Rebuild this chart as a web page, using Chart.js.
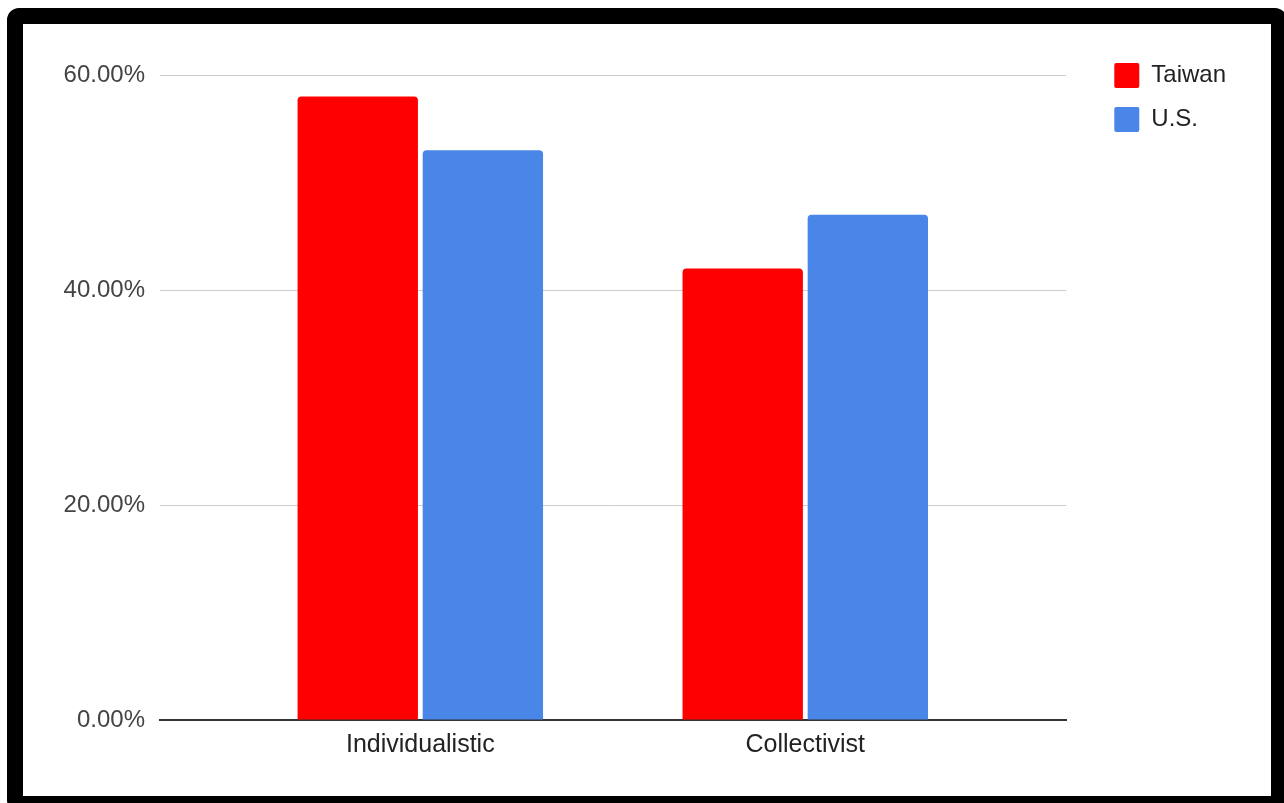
<!DOCTYPE html>
<html>
<head>
<meta charset="utf-8">
<title>Taiwan vs U.S.</title>
<script src="https://cdn.jsdelivr.net/npm/chart.js@4.4.1/dist/chart.umd.min.js"></script>
<style>
  html, body { margin: 0; padding: 0; background: #ffffff; overflow: hidden; }
  body { width: 1284px; height: 803px; position: relative; }
  .frame {
    position: absolute;
    left: 7px; top: 8px;
    width: 1248px; height: 772px;
    border: 16px solid #000;
    border-radius: 12px;
    background: #fff;
  }
  .frame canvas { position: absolute; left: 0; top: 0; }
</style>
</head>
<body>
<div class="frame">
  <canvas id="chart" width="1248" height="772"></canvas>
</div>
<script>
// Categories and series (percent of respondents)
const categories = ['Individualistic', 'Collectivist'];
const seriesNames = ['Taiwan', 'U.S.'];
const taiwanValues = [58, 42];
const usValues = [53, 47];
const yTicks = [0, 20, 40, 60];

const seriesColors = ['#ff0000', '#4a86e8'];

Chart.defaults.font.family = '"Liberation Sans", Arial, Helvetica, sans-serif';
Chart.defaults.color = '#444';

// Each category sits at position 1, 2, ... on a numeric x scale
const toPoints = (values) => values.map((v, i) => ({ x: i + 1, y: v }));

new Chart(document.getElementById('chart'), {
  type: 'bar',
  data: {
    datasets: [
      {
        label: seriesNames[0],
        data: toPoints(taiwanValues),
        backgroundColor: seriesColors[0],
        borderRadius: 4,
        borderSkipped: 'start'
      },
      {
        label: seriesNames[1],
        data: toPoints(usValues),
        backgroundColor: seriesColors[1],
        borderRadius: 4,
        borderSkipped: 'start'
      }
    ]
  },
  options: {
    responsive: false,
    animation: false,
    devicePixelRatio: 1,
    categoryPercentage: 0.65,
    barPercentage: 0.962,
    layout: { padding: { top: 20, left: 0, right: 35, bottom: 0 } },
    plugins: {
      tooltip: { enabled: false },
      title: {
        display: true,
        text: '',
        font: { size: 10 },
        padding: { top: 0, bottom: 19 }
      },
      legend: {
        position: 'right',
        align: 'start',
        labels: {
          boxWidth: 25,
          boxHeight: 25,
          padding: 19,
          color: '#222',
          font: { size: 24 },
          useBorderRadius: true,
          borderRadius: 2
        }
      }
    },
    scales: {
      x: {
        type: 'linear',
        offset: false,
        min: 0.3238,
        max: 2.678,
        z: 1,
        grid: { display: false, offset: false },
        border: { display: true, color: '#333', width: 2 },
        afterFit: (scale) => { scale.height = 76; },
        afterBuildTicks: (scale) => {
          scale.ticks = categories.map((c, i) => ({ value: i + 1 }));
        },
        ticks: {
          padding: 2,
          maxRotation: 0,
          autoSkip: false,
          color: '#222',
          font: { size: 25 },
          callback: (value) => categories[value - 1]
        }
      },
      y: {
        min: yTicks[0],
        max: yTicks[yTicks.length - 1],
        afterFit: (scale) => { scale.width = 137; },
        afterBuildTicks: (scale) => {
          scale.ticks = yTicks.map((v) => ({ value: v }));
        },
        border: { display: false },
        grid: {
          drawTicks: false,
          color: (ctx) => (ctx.tick && ctx.tick.value === 0 ? '#333' : '#cccccc'),
          lineWidth: 1
        },
        ticks: {
          padding: 15,
          color: '#444',
          font: { size: 24 },
          callback: (value) => value.toFixed(2) + '%'
        }
      },
      yRight: {
        type: 'linear',
        position: 'right',
        display: true,
        grid: { display: false },
        border: { display: false },
        ticks: { display: false },
        afterFit: (scale) => { scale.width = 29; }
      }
    }
  }
});
</script>
</body>
</html>
